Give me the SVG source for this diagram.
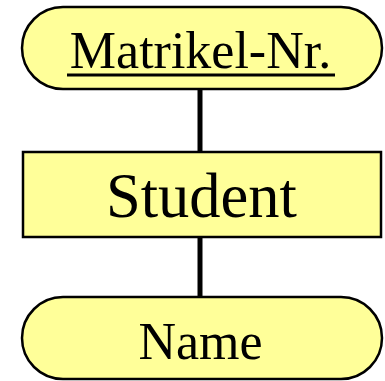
<svg xmlns="http://www.w3.org/2000/svg" width="385" height="381" viewBox="0 0 385 381">
<style>
.n{fill:#ffff99;stroke:#000;stroke-width:2.5}
.t{font-family:"Liberation Serif","Times New Roman",serif;fill:#000;text-anchor:middle}
.c{stroke:#000;stroke-width:5;fill:none}
</style>
<rect width="385" height="381" fill="#fff"/>
<g id="connectors">
<line class="c" x1="200" y1="89" x2="200" y2="152"/>
<line class="c" x1="200" y1="237" x2="200" y2="297"/>
</g>
<g id="matrikel">
<rect class="n" x="22" y="7" width="360" height="82" rx="41" ry="41"/>
<text class="t" x="200.5" y="68" font-size="52">Matrikel-Nr.</text>
<line x1="67" y1="75" x2="335" y2="75" stroke="#000" stroke-width="3.2"/>
</g>
<g id="student">
<rect class="n" x="23" y="152" width="358" height="85"/>
<text class="t" x="201.5" y="217" font-size="62.5">Student</text>
</g>
<g id="name">
<rect class="n" x="22" y="297" width="360" height="82" rx="41" ry="41"/>
<text class="t" x="200.5" y="359" font-size="52">Name</text>
</g>
</svg>
